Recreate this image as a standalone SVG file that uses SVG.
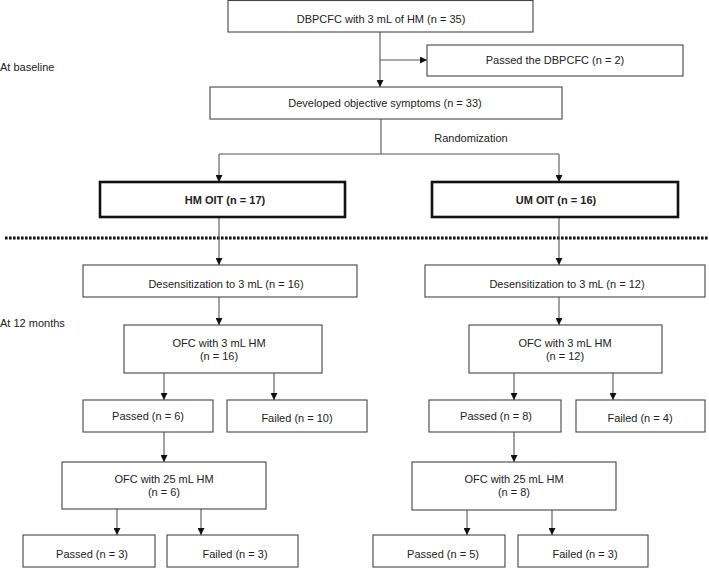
<svg xmlns="http://www.w3.org/2000/svg" width="709" height="568" viewBox="0 0 709 568">
<defs>
<marker id="ah" markerUnits="userSpaceOnUse" markerWidth="7" markerHeight="7" refX="7" refY="3.5" orient="auto">
<path d="M0,0 L7,3.5 L0,7 z" fill="#111"/>
</marker>
<style>
.b{fill:#fff;stroke:#444;stroke-width:1.1}
.bb{fill:#fff;stroke:#111;stroke-width:2.6}
.t{font-family:"Liberation Sans",Arial,sans-serif;font-size:11px;fill:#222;text-anchor:middle;dominant-baseline:central}
.tb{font-weight:bold}
.l{font-family:"Liberation Sans",Arial,sans-serif;font-size:11px;fill:#222}
.c{fill:none;stroke:#555;stroke-width:1.1}
.ca{fill:none;stroke:#555;stroke-width:1.1;marker-end:url(#ah)}
</style>
</defs>
<rect width="709" height="568" fill="#fff"/>
<text class="l" x="0" y="71">At baseline</text>
<text class="l" x="0" y="327">At 12 months</text>
<text class="t" x="471" y="138">Randomization</text>
<line x1="5" y1="238" x2="709" y2="238" stroke="#111" stroke-width="3" stroke-dasharray="2.6 1.4"/>
<g id="connectors">
<path class="ca" d="M380,32 V87"/>
<path class="ca" d="M380,60 H427"/>
<path class="c" d="M381,119 V154 M219,154 H559"/>
<path class="ca" d="M219,154 V182"/>
<path class="ca" d="M559,154 V182"/>
<path class="ca" d="M219,217 V265"/>
<path class="ca" d="M559,217 V265"/>
<path class="ca" d="M219,297 V325"/>
<path class="ca" d="M559,297 V325"/>
<path class="ca" d="M164,373 V400"/>
<path class="ca" d="M274,373 V400"/>
<path class="ca" d="M514,373 V400"/>
<path class="ca" d="M613,373 V400"/>
<path class="ca" d="M164,432 V462"/>
<path class="ca" d="M514,432 V462"/>
<path class="ca" d="M117,509 V535"/>
<path class="ca" d="M201,509 V535"/>
<path class="ca" d="M467,510 V535"/>
<path class="ca" d="M552,510 V535"/>
</g>
<g id="n_dbpcfc"><rect class="b" x="228" y="0.5" width="305" height="31.5"/><text class="t" x="381" y="19">DBPCFC with 3 mL of HM (n = 35)</text></g>
<g id="n_passed_dbpcfc"><rect class="b" x="427" y="45" width="256" height="31"/><text class="t" x="555" y="60">Passed the DBPCFC (n = 2)</text></g>
<g id="n_developed"><rect class="b" x="210" y="87" width="352" height="32"/><text class="t" x="385" y="103">Developed objective symptoms (n = 33)</text></g>
<g id="n_hm_oit"><rect class="bb" x="100" y="182" width="245" height="35"/><text class="t tb" x="225" y="200">HM OIT (n = 17)</text></g>
<g id="n_um_oit"><rect class="bb" x="432" y="182" width="246" height="35"/><text class="t tb" x="556" y="200">UM OIT (n = 16)</text></g>
<g id="n_desens_hm"><rect class="b" x="83" y="265" width="274" height="32"/><text class="t" x="226" y="284">Desensitization to 3 mL (n = 16)</text></g>
<g id="n_desens_um"><rect class="b" x="425" y="265" width="280" height="32"/><text class="t" x="567" y="284">Desensitization to 3 mL (n = 12)</text></g>
<g id="n_ofc3_hm"><rect class="b" x="124" y="325" width="198" height="48"/><text class="t" x="219" y="343">OFC with 3 mL HM</text><text class="t" x="219" y="356">(n = 16)</text></g>
<g id="n_ofc3_um"><rect class="b" x="469" y="325" width="193" height="48"/><text class="t" x="565" y="343">OFC with 3 mL HM</text><text class="t" x="565" y="356">(n = 12)</text></g>
<g id="n_passed6"><rect class="b" x="83" y="400" width="130" height="32"/><text class="t" x="148" y="416">Passed (n = 6)</text></g>
<g id="n_failed10"><rect class="b" x="227" y="400" width="140" height="32"/><text class="t" x="297" y="418">Failed (n = 10)</text></g>
<g id="n_passed8"><rect class="b" x="429" y="400" width="132" height="32"/><text class="t" x="496" y="416">Passed (n = 8)</text></g>
<g id="n_failed4"><rect class="b" x="576" y="400" width="129" height="32"/><text class="t" x="640" y="418">Failed (n = 4)</text></g>
<g id="n_ofc25_hm"><rect class="b" x="62" y="462" width="204" height="47"/><text class="t" x="164" y="479">OFC with 25 mL HM</text><text class="t" x="164" y="492">(n = 6)</text></g>
<g id="n_ofc25_um"><rect class="b" x="412" y="462" width="204" height="48"/><text class="t" x="514" y="479">OFC with 25 mL HM</text><text class="t" x="514" y="492">(n = 8)</text></g>
<g id="n_passed3"><rect class="b" x="23" y="535" width="132" height="32"/><text class="t" x="92" y="554">Passed (n = 3)</text></g>
<g id="n_failed3_hm"><rect class="b" x="167" y="535" width="131" height="32"/><text class="t" x="235" y="554">Failed (n = 3)</text></g>
<g id="n_passed5"><rect class="b" x="373" y="535" width="132" height="32"/><text class="t" x="443" y="554">Passed (n = 5)</text></g>
<g id="n_failed3_um"><rect class="b" x="518" y="535" width="130" height="32"/><text class="t" x="585" y="554">Failed (n = 3)</text></g>
</svg>
